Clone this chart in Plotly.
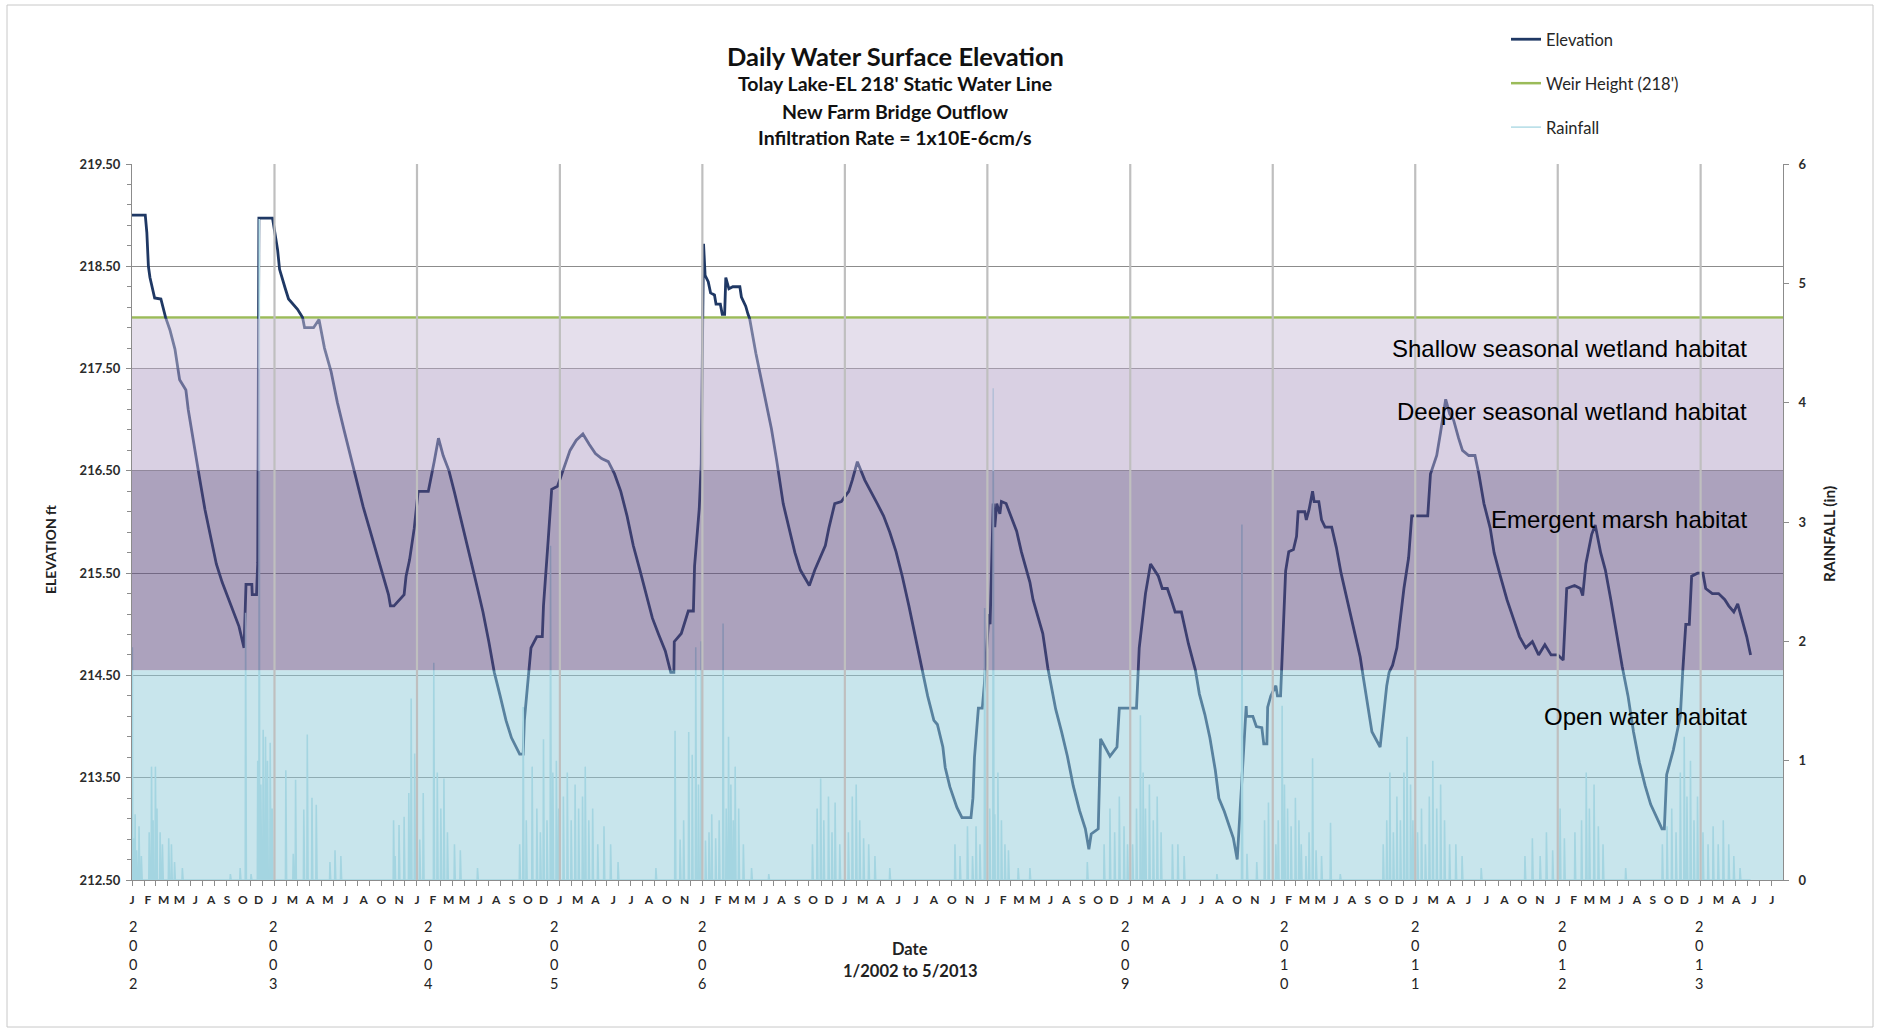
import pandas as pd
import plotly.graph_objects as go

# ---------------------------------------------------------------- data
X_START, X_END = "2002-01-01", "2013-07-31"
WEIR_FT = 218.0

# Daily water surface elevation (ft), read at the turning points of the record
elevation_readings = [
    ("2002-01-01", 219.00), ("2002-02-04", 219.00), ("2002-02-08", 218.83), ("2002-02-12", 218.50),
    ("2002-02-16", 218.39), ("2002-02-28", 218.19), ("2002-03-16", 218.18), ("2002-03-28", 218.00),
    ("2002-04-08", 217.88), ("2002-04-21", 217.69), ("2002-05-03", 217.39), ("2002-05-19", 217.29),
    ("2002-05-25", 217.10), ("2002-06-08", 216.76), ("2002-06-23", 216.43), ("2002-07-07", 216.12),
    ("2002-07-22", 215.85), ("2002-08-05", 215.59), ("2002-08-20", 215.41), ("2002-09-03", 215.27),
    ("2002-09-18", 215.12), ("2002-10-02", 214.98), ("2002-10-15", 214.77), ("2002-10-20", 215.39),
    ("2002-11-04", 215.39), ("2002-11-05", 215.29), ("2002-11-16", 215.29), ("2002-11-19", 215.60),
    ("2002-11-22", 218.97), ("2002-12-27", 218.97), ("2003-01-09", 218.66), ("2003-01-14", 218.47),
    ("2003-01-28", 218.29), ("2003-02-06", 218.18), ("2003-03-01", 218.08), ("2003-03-14", 218.00),
    ("2003-03-19", 217.90), ("2003-04-11", 217.90), ("2003-04-25", 217.98), ("2003-05-09", 217.70),
    ("2003-05-26", 217.47), ("2003-06-11", 217.17), ("2003-06-28", 216.90), ("2003-07-14", 216.65),
    ("2003-07-30", 216.41), ("2003-08-16", 216.15), ("2003-09-01", 215.94), ("2003-09-18", 215.71),
    ("2003-10-04", 215.50), ("2003-10-20", 215.29), ("2003-10-25", 215.18), ("2003-11-03", 215.18),
    ("2003-11-29", 215.29), ("2003-12-04", 215.47), ("2003-12-13", 215.63), ("2003-12-25", 215.94),
    ("2004-01-04", 216.30), ("2004-01-30", 216.30), ("2004-02-14", 216.59), ("2004-02-25", 216.82),
    ("2004-03-08", 216.65), ("2004-03-23", 216.50), ("2004-04-06", 216.29), ("2004-04-21", 216.06),
    ("2004-05-05", 215.82), ("2004-05-20", 215.59), ("2004-06-04", 215.35), ("2004-06-18", 215.12),
    ("2004-07-03", 214.83), ("2004-07-17", 214.53), ("2004-08-01", 214.30), ("2004-08-16", 214.06),
    ("2004-08-30", 213.89), ("2004-09-20", 213.73), ("2004-09-29", 213.73), ("2004-10-02", 214.06),
    ("2004-10-19", 214.77), ("2004-11-03", 214.88), ("2004-11-17", 214.88), ("2004-11-20", 215.18),
    ("2004-12-02", 215.82), ("2004-12-11", 216.32), ("2004-12-26", 216.35), ("2005-01-11", 216.53),
    ("2005-01-27", 216.70), ("2005-02-12", 216.80), ("2005-03-01", 216.86), ("2005-03-17", 216.76),
    ("2005-04-02", 216.67), ("2005-04-18", 216.62), ("2005-05-05", 216.59), ("2005-05-21", 216.47),
    ("2005-06-06", 216.30), ("2005-06-22", 216.06), ("2005-07-08", 215.77), ("2005-07-25", 215.53),
    ("2005-08-10", 215.30), ("2005-08-26", 215.06), ("2005-09-11", 214.90), ("2005-09-28", 214.74),
    ("2005-10-12", 214.53), ("2005-10-20", 214.53), ("2005-10-21", 214.83), ("2005-11-08", 214.91),
    ("2005-11-26", 215.13), ("2005-12-09", 215.13), ("2005-12-12", 215.57), ("2005-12-19", 215.87),
    ("2005-12-24", 216.13), ("2005-12-29", 216.57), ("2006-01-04", 218.72), ("2006-01-08", 218.41),
    ("2006-01-16", 218.35), ("2006-01-22", 218.24), ("2006-02-01", 218.22), ("2006-02-05", 218.13),
    ("2006-02-16", 218.13), ("2006-02-21", 218.03), ("2006-02-27", 218.03), ("2006-03-02", 218.39),
    ("2006-03-10", 218.28), ("2006-03-20", 218.30), ("2006-04-07", 218.30), ("2006-04-11", 218.20),
    ("2006-04-22", 218.11), ("2006-04-28", 218.03), ("2006-05-02", 217.99), ("2006-05-18", 217.65),
    ("2006-05-30", 217.43), ("2006-06-11", 217.22), ("2006-06-27", 216.91), ("2006-07-10", 216.61),
    ("2006-07-27", 216.18), ("2006-08-11", 215.94), ("2006-08-26", 215.70), ("2006-09-09", 215.53),
    ("2006-10-02", 215.38), ("2006-10-16", 215.53), ("2006-11-12", 215.77), ("2006-11-21", 215.94),
    ("2006-12-06", 216.18), ("2006-12-23", 216.20), ("2007-01-11", 216.30), ("2007-01-20", 216.41),
    ("2007-02-02", 216.59), ("2007-02-21", 216.41), ("2007-03-09", 216.30), ("2007-03-25", 216.18),
    ("2007-04-10", 216.06), ("2007-04-26", 215.90), ("2007-05-12", 215.71), ("2007-05-28", 215.47),
    ("2007-06-14", 215.18), ("2007-06-30", 214.88), ("2007-07-16", 214.59), ("2007-08-01", 214.30),
    ("2007-08-17", 214.06), ("2007-08-26", 214.02), ("2007-09-09", 213.80), ("2007-09-15", 213.60),
    ("2007-09-27", 213.41), ("2007-10-06", 213.31), ("2007-10-15", 213.21), ("2007-10-28", 213.11),
    ("2007-11-20", 213.11), ("2007-11-25", 213.30), ("2007-11-29", 213.70), ("2007-12-09", 214.18),
    ("2007-12-19", 214.18), ("2007-12-24", 214.40), ("2008-01-05", 215.10), ("2008-01-08", 215.00),
    ("2008-01-16", 216.18), ("2008-01-20", 215.95), ("2008-01-25", 216.18), ("2008-02-02", 216.08),
    ("2008-02-06", 216.20), ("2008-02-18", 216.18), ("2008-02-28", 216.08), ("2008-03-16", 215.91),
    ("2008-03-28", 215.71), ("2008-04-06", 215.58), ("2008-04-19", 215.41), ("2008-04-27", 215.24),
    ("2008-05-10", 215.07), ("2008-05-22", 214.91), ("2008-06-04", 214.57), ("2008-06-12", 214.40),
    ("2008-06-24", 214.17), ("2008-07-09", 213.95), ("2008-07-24", 213.71), ("2008-08-08", 213.42),
    ("2008-08-24", 213.18), ("2008-09-08", 213.00), ("2008-09-17", 212.80), ("2008-09-23", 212.95),
    ("2008-10-11", 213.00), ("2008-10-17", 213.88), ("2008-11-10", 213.71), ("2008-11-28", 213.80),
    ("2008-12-04", 214.18), ("2008-12-22", 214.18), ("2009-01-17", 214.18), ("2009-01-24", 214.77),
    ("2009-02-09", 215.30), ("2009-02-22", 215.59), ("2009-03-14", 215.47), ("2009-03-24", 215.35),
    ("2009-04-06", 215.35), ("2009-04-16", 215.24), ("2009-04-26", 215.12), ("2009-05-12", 215.12),
    ("2009-05-30", 214.81), ("2009-06-17", 214.55), ("2009-06-27", 214.32), ("2009-07-11", 214.12),
    ("2009-07-24", 213.89), ("2009-08-07", 213.57), ("2009-08-16", 213.30), ("2009-08-30", 213.17),
    ("2009-09-13", 213.01), ("2009-09-22", 212.91), ("2009-10-02", 212.70), ("2009-10-25", 214.20),
    ("2009-10-26", 214.10), ("2009-11-11", 214.10), ("2009-11-20", 214.00), ("2009-12-04", 213.99),
    ("2009-12-09", 213.83), ("2009-12-17", 213.83), ("2009-12-19", 214.19), ("2009-12-27", 214.30),
    ("2010-01-09", 214.40), ("2010-01-13", 214.30), ("2010-01-21", 214.30), ("2010-01-26", 214.75),
    ("2010-01-30", 215.20), ("2010-02-03", 215.52), ("2010-02-11", 215.71), ("2010-02-23", 215.73),
    ("2010-03-03", 215.86), ("2010-03-07", 216.10), ("2010-03-24", 216.10), ("2010-03-28", 216.02),
    ("2010-04-04", 216.12), ("2010-04-13", 216.30), ("2010-04-17", 216.20), ("2010-04-29", 216.20),
    ("2010-05-06", 216.02), ("2010-05-15", 215.95), ("2010-06-01", 215.95), ("2010-06-13", 215.75),
    ("2010-06-25", 215.50), ("2010-07-07", 215.30), ("2010-07-20", 215.07), ("2010-08-01", 214.88),
    ("2010-08-13", 214.68), ("2010-08-21", 214.48), ("2010-08-29", 214.30), ("2010-09-12", 213.95),
    ("2010-10-03", 213.80), ("2010-10-11", 214.09), ("2010-10-20", 214.40), ("2010-10-26", 214.53),
    ("2010-11-04", 214.60), ("2010-11-15", 214.77), ("2010-11-24", 215.06), ("2010-12-03", 215.35),
    ("2010-12-15", 215.65), ("2010-12-23", 216.06), ("2011-01-07", 216.06), ("2011-02-02", 216.06),
    ("2011-02-09", 216.47), ("2011-02-25", 216.65), ("2011-03-07", 216.88), ("2011-03-20", 217.20),
    ("2011-03-30", 217.06), ("2011-04-09", 217.00), ("2011-04-22", 216.82), ("2011-05-02", 216.70),
    ("2011-05-18", 216.65), ("2011-06-03", 216.65), ("2011-06-13", 216.47), ("2011-06-26", 216.18),
    ("2011-07-12", 215.94), ("2011-07-22", 215.70), ("2011-08-07", 215.47), ("2011-08-24", 215.24),
    ("2011-09-09", 215.06), ("2011-09-25", 214.88), ("2011-10-11", 214.77), ("2011-10-28", 214.83),
    ("2011-11-13", 214.70), ("2011-11-29", 214.80), ("2011-12-15", 214.70), ("2012-01-01", 214.70),
    ("2012-01-15", 214.65), ("2012-01-24", 215.35), ("2012-02-13", 215.38), ("2012-02-28", 215.35),
    ("2012-03-05", 215.28), ("2012-03-13", 215.59), ("2012-03-28", 215.88), ("2012-04-06", 215.97),
    ("2012-04-20", 215.70), ("2012-05-02", 215.53), ("2012-05-16", 215.24), ("2012-05-31", 214.88),
    ("2012-06-14", 214.59), ("2012-06-29", 214.30), ("2012-07-13", 213.95), ("2012-07-28", 213.65),
    ("2012-08-12", 213.42), ("2012-08-26", 213.24), ("2012-09-10", 213.12), ("2012-09-24", 213.00),
    ("2012-09-30", 213.00), ("2012-10-06", 213.53), ("2012-10-23", 213.77), ("2012-11-01", 213.95),
    ("2012-11-10", 214.10), ("2012-11-16", 214.53), ("2012-11-24", 215.00), ("2012-12-03", 215.00),
    ("2012-12-09", 215.47), ("2012-12-24", 215.50), ("2013-01-07", 215.50), ("2013-01-14", 215.35),
    ("2013-01-31", 215.30), ("2013-02-16", 215.30), ("2013-03-04", 215.24), ("2013-03-14", 215.18),
    ("2013-03-27", 215.12), ("2013-04-06", 215.20), ("2013-04-16", 215.06), ("2013-04-29", 214.88),
    ("2013-05-09", 214.70),
]

# Daily rainfall (in) on rain days; every other day of the record is dry
rainfall_readings = [
    ("2002-01-02", 1.95), ("2002-01-05", 0.35), ("2002-01-09", 0.55), ("2002-01-13", 0.25),
    ("2002-01-19", 0.45), ("2002-01-25", 0.20), ("2002-02-14", 0.40), ("2002-02-20", 0.95),
    ("2002-02-24", 0.50), ("2002-03-02", 0.95), ("2002-03-06", 0.60), ("2002-03-14", 0.40),
    ("2002-03-20", 0.30), ("2002-04-05", 0.35), ("2002-04-12", 0.30), ("2002-04-20", 0.15),
    ("2002-05-10", 0.10), ("2002-09-10", 0.05), ("2002-10-05", 0.10), ("2002-10-19", 2.24),
    ("2002-11-02", 0.05), ("2002-11-19", 1.00), ("2002-11-23", 5.54), ("2002-11-27", 0.80),
    ("2002-12-03", 1.26), ("2002-12-09", 1.20), ("2002-12-14", 1.00), ("2002-12-21", 1.15),
    ("2002-12-26", 0.60), ("2003-01-30", 0.92), ("2003-02-18", 0.22), ("2003-02-24", 0.84),
    ("2003-03-17", 0.59), ("2003-03-26", 1.22), ("2003-04-07", 0.69), ("2003-04-18", 0.63),
    ("2003-05-23", 0.15), ("2003-06-05", 0.25), ("2003-06-20", 0.20), ("2003-11-02", 0.50),
    ("2003-11-06", 0.20), ("2003-11-16", 0.46), ("2003-11-29", 0.53), ("2003-12-11", 0.73),
    ("2003-12-17", 1.52), ("2003-12-26", 1.06), ("2004-01-08", 0.34), ("2004-01-17", 0.73),
    ("2004-02-13", 1.82), ("2004-02-22", 0.90), ("2004-03-02", 0.60), ("2004-03-10", 0.85),
    ("2004-03-19", 0.40), ("2004-04-06", 0.30), ("2004-04-21", 0.25), ("2004-06-04", 0.10),
    ("2004-09-20", 0.30), ("2004-09-29", 1.45), ("2004-10-07", 0.50), ("2004-10-22", 0.95),
    ("2004-11-03", 0.60), ("2004-11-12", 0.40), ("2004-11-20", 1.18), ("2004-11-29", 0.50),
    ("2004-12-08", 2.80), ("2004-12-14", 0.90), ("2004-12-23", 1.00), ("2004-12-29", 0.60),
    ("2005-01-10", 0.70), ("2005-01-20", 0.90), ("2005-01-30", 0.50), ("2005-02-09", 0.80),
    ("2005-02-18", 0.60), ("2005-02-28", 0.70), ("2005-03-07", 0.95), ("2005-03-16", 0.50),
    ("2005-03-26", 0.60), ("2005-04-08", 0.30), ("2005-04-24", 0.45), ("2005-05-11", 0.30),
    ("2005-05-30", 0.15), ("2005-09-04", 0.10), ("2005-10-23", 1.25), ("2005-11-05", 0.34),
    ("2005-11-14", 0.50), ("2005-11-27", 1.24), ("2005-12-06", 1.05), ("2005-12-15", 1.95),
    ("2005-12-22", 0.80), ("2005-12-29", 2.00), ("2006-01-09", 0.33), ("2006-01-18", 0.40),
    ("2006-01-25", 0.55), ("2006-02-04", 0.35), ("2006-02-13", 0.50), ("2006-02-23", 2.15),
    ("2006-03-03", 0.60), ("2006-03-09", 1.20), ("2006-03-15", 0.80), ("2006-03-21", 0.50),
    ("2006-03-26", 0.95), ("2006-04-04", 0.60), ("2006-04-16", 0.30), ("2006-05-07", 0.10),
    ("2006-06-20", 0.05), ("2006-10-10", 0.30), ("2006-10-22", 0.60), ("2006-10-31", 0.85),
    ("2006-11-08", 0.50), ("2006-11-20", 0.70), ("2006-11-29", 0.40), ("2006-12-07", 0.65),
    ("2006-12-19", 0.30), ("2007-01-10", 0.40), ("2007-01-20", 0.70), ("2007-01-30", 0.80),
    ("2007-02-08", 0.50), ("2007-02-18", 0.35), ("2007-03-03", 0.30), ("2007-03-19", 0.20),
    ("2007-04-26", 0.10), ("2007-10-10", 0.30), ("2007-10-23", 0.20), ("2007-11-11", 0.45),
    ("2007-11-24", 0.20), ("2007-12-03", 0.45), ("2007-12-13", 0.30), ("2007-12-25", 2.28),
    ("2008-01-07", 0.60), ("2008-01-16", 4.12), ("2008-01-20", 0.55), ("2008-01-28", 0.90),
    ("2008-02-06", 0.50), ("2008-02-15", 0.30), ("2008-02-24", 0.25), ("2008-03-20", 0.10),
    ("2008-04-19", 0.10), ("2008-09-13", 0.15), ("2008-10-26", 0.30), ("2008-11-10", 0.60),
    ("2008-11-22", 0.40), ("2008-12-04", 0.70), ("2008-12-16", 0.45), ("2008-12-25", 0.30),
    ("2009-01-07", 0.30), ("2009-01-17", 0.60), ("2009-01-27", 1.38), ("2009-02-03", 0.90),
    ("2009-02-09", 0.60), ("2009-02-19", 0.80), ("2009-03-01", 0.50), ("2009-03-11", 0.70),
    ("2009-03-21", 0.40), ("2009-04-19", 0.30), ("2009-05-03", 0.30), ("2009-05-19", 0.20),
    ("2009-08-11", 0.05), ("2009-10-14", 2.98), ("2009-10-27", 0.22), ("2009-11-21", 0.15),
    ("2009-12-11", 0.50), ("2009-12-21", 0.65), ("2010-01-09", 0.30), ("2010-01-15", 0.50),
    ("2010-01-25", 1.46), ("2010-01-31", 0.80), ("2010-02-08", 0.60), ("2010-02-17", 0.45),
    ("2010-02-28", 0.69), ("2010-03-09", 0.50), ("2010-03-15", 0.30), ("2010-03-27", 0.20),
    ("2010-04-04", 0.40), ("2010-04-13", 1.02), ("2010-04-22", 0.25), ("2010-05-06", 0.20),
    ("2010-05-29", 0.48), ("2010-06-23", 0.05), ("2010-10-11", 0.30), ("2010-10-20", 0.50),
    ("2010-10-28", 0.90), ("2010-11-06", 0.40), ("2010-11-15", 0.70), ("2010-11-24", 0.50),
    ("2010-12-03", 0.90), ("2010-12-11", 1.20), ("2010-12-20", 0.80), ("2010-12-26", 0.50),
    ("2011-01-07", 0.40), ("2011-01-17", 0.60), ("2011-01-27", 0.30), ("2011-02-06", 0.70),
    ("2011-02-15", 1.00), ("2011-02-25", 0.60), ("2011-03-07", 0.80), ("2011-03-17", 0.50),
    ("2011-03-30", 0.30), ("2011-04-15", 0.30), ("2011-05-01", 0.20), ("2011-06-19", 0.10),
    ("2011-10-09", 0.20), ("2011-10-28", 0.35), ("2011-11-17", 0.20), ("2011-12-03", 0.40),
    ("2011-12-19", 0.25), ("2012-01-07", 0.60), ("2012-01-18", 0.35), ("2012-02-14", 0.40),
    ("2012-03-02", 0.50), ("2012-03-14", 0.90), ("2012-03-22", 0.60), ("2012-04-03", 0.80),
    ("2012-04-14", 0.45), ("2012-04-26", 0.30), ("2012-06-23", 0.10), ("2012-09-25", 0.30),
    ("2012-10-07", 0.45), ("2012-10-19", 0.60), ("2012-10-30", 0.40), ("2012-11-10", 0.90),
    ("2012-11-20", 1.20), ("2012-11-27", 0.70), ("2012-12-06", 1.00), ("2012-12-15", 0.50),
    ("2012-12-24", 0.70), ("2013-01-07", 0.40), ("2013-01-20", 0.30), ("2013-02-02", 0.45),
    ("2013-02-15", 0.30), ("2013-02-28", 0.50), ("2013-03-14", 0.30), ("2013-03-27", 0.20),
    ("2013-04-12", 0.10),
]
RAIN_RECORD_END = "2013-05-09"

# Month initials shown along the date axis, year by year
month_initials = {
    2002: "J F M M J A S O D", 2003: "J M A M J A O N", 2004: "J F M M J A S O D",
    2005: "J M A J J A O N",   2006: "J F M M J A S O D", 2007: "J M A J J A O N",
    2008: "J F M M J A S O D", 2009: "J M A J J A O N", 2010: "J F M M J A S O D",
    2011: "J M A J J A O N",   2012: "J F M M J A S O D", 2013: "J M A J J",
}
# Year captions under the month initials (2007 and 2008 sit behind the axis title)
year_captions = [2002, 2003, 2004, 2005, 2006, 2009, 2010, 2011, 2012, 2013]
year_caption_offset_days = {2002: 3, 2003: -3, 2004: 29, 2005: -16, 2006: 0,
                            2009: -13, 2010: 29, 2011: 0, 2012: 12, 2013: -3}

# Habitat zones by elevation (ft)
band_names = ["Shallow seasonal wetland habitat", "Deeper seasonal wetland habitat",
              "Emergent marsh habitat", "Open water habitat"]
band_bottom_ft = [217.5, 216.5, 214.55, 212.5]
band_top_ft = [218.0, 217.5, 216.5, 214.55]

# ---------------------------------------------------------------- styles
W, H = 1883, 1029
ML, MR, MT, MB = 132, 100, 164, 149
PW, PH = W - ML - MR, H - MT - MB

def px_x(px):
    return (px - ML) / PW

def px_y(py):
    return (H - MB - py) / PH

NAVY = "#1F3864"
WEIR_GREEN = "#9BBB59"
RAIN_BLUE = "#B7DEE8"
GRID = "#8C8C8C"
YEAR_LINE = "#BFBFBF"
TEXT = "#2b2b2b"
CAL = "Lato"
band_fill = ["rgba(203,191,217,0.5)", "rgba(179,161,199,0.5)",
             "rgba(89,69,123,0.5)", "rgba(145,203,217,0.5)"]
band_label_ft = [217.70, 217.08, 216.02, 214.10]

# ---------------------------------------------------------------- series
elev_date = pd.to_datetime([d for d, _ in elevation_readings])
elev_ft = [v for _, v in elevation_readings]

rain_days = pd.date_range(X_START, RAIN_RECORD_END, freq="D")
rain = pd.Series(0.0, index=rain_days)
rain.loc[pd.to_datetime([d for d, _ in rainfall_readings])] = [v for _, v in rainfall_readings]

fig = go.Figure()

fig.add_trace(go.Scatter(
    x=rain.index, y=rain.values, yaxis="y2", mode="lines", name="Rainfall",
    line=dict(color=RAIN_BLUE, width=1.6), legendgroup="rain", legendrank=3,
    hoverinfo="skip"))

fig.add_trace(go.Scatter(
    x=[X_START, X_END], y=[WEIR_FT, WEIR_FT], mode="lines", name="Weir Height (218')",
    line=dict(color=WEIR_GREEN, width=2.5), legendgroup="weir", legendrank=2))

fig.add_trace(go.Scatter(
    x=elev_date, y=elev_ft, mode="lines", name="Elevation",
    line=dict(color=NAVY, width=2.8), legendgroup="elev", legendrank=1))

# ---------------------------------------------------------------- date axis ticks
tick_vals, tick_text = [], []
for yr, letters in month_initials.items():
    letters = letters.split()
    slots = 9 if len(letters) >= 9 else 8
    start = pd.Timestamp(f"{yr}-01-01")
    for i, letter in enumerate(letters):
        tick_vals.append(start + pd.Timedelta(days=365.0 * i / slots))
        tick_text.append(letter)

# ---------------------------------------------------------------- shapes
shapes = []
for lo, hi, fill in zip(band_bottom_ft, band_top_ft, band_fill):
    top = hi - 0.012 if hi == WEIR_FT else hi  # keep the weir line clear of the zone tint
    shapes.append(dict(type="rect", xref="paper", yref="y", x0=0, x1=1, y0=lo, y1=top,
                       fillcolor=fill, line=dict(width=0), layer="above"))
for yr in range(2003, 2014):
    shapes.append(dict(type="line", xref="x", yref="paper", x0=f"{yr}-01-01", x1=f"{yr}-01-01",
                       y0=0, y1=1, line=dict(color=YEAR_LINE, width=2.2), layer="above"))
shapes.append(dict(type="rect", xref="paper", yref="paper",
                   x0=px_x(7), x1=px_x(1873), y0=px_y(1027), y1=px_y(5),
                   line=dict(color="#C8C8C8", width=1), fillcolor="rgba(0,0,0,0)", layer="below"))

# ---------------------------------------------------------------- annotations
ann = []
title_lines = [("Daily Water Surface Elevation", 25.5, 56),
               ("Tolay Lake-EL 218' Static Water Line", 19.5, 84),
               ("New Farm Bridge Outflow", 19.5, 111.5),
               ("Infiltration Rate = 1x10E-6cm/s", 19.5, 138)]
for txt, size, py in title_lines:
    ann.append(dict(text=f"<b>{txt}</b>", xref="paper", yref="paper", x=px_x(895), y=px_y(py),
                    xanchor="center", yanchor="middle", showarrow=False,
                    font=dict(family=CAL, size=size, color="#111111")))

ann.append(dict(text="<b>Date</b>", xref="paper", yref="paper", x=px_x(910), y=px_y(949),
                xanchor="center", yanchor="middle", showarrow=False,
                font=dict(family=CAL, size=16.5, color="#222222")))
ann.append(dict(text="<b>1/2002 to 5/2013</b>", xref="paper", yref="paper", x=px_x(910), y=px_y(971),
                xanchor="center", yanchor="middle", showarrow=False,
                font=dict(family=CAL, size=16.5, color="#222222")))
ann.append(dict(text="<b>ELEVATION ft</b>", xref="paper", yref="paper", x=px_x(50), y=px_y(550),
                textangle=-90, xanchor="center", yanchor="middle", showarrow=False,
                font=dict(family=CAL, size=14, color="#222222")))
ann.append(dict(text="<b>RAINFALL (in)</b>", xref="paper", yref="paper", x=px_x(1829), y=px_y(534),
                textangle=-90, xanchor="center", yanchor="middle", showarrow=False,
                font=dict(family=CAL, size=15.5, color="#222222")))

for yr in year_captions:
    when = pd.Timestamp(f"{yr}-01-01") + pd.Timedelta(days=year_caption_offset_days[yr])
    ann.append(dict(text="<br>".join(str(yr)), xref="x", yref="paper", x=when, y=px_y(916),
                    xanchor="center", yanchor="top", showarrow=False, align="center",
                    font=dict(family=CAL, size=14.5, color="#222222")))

for name, yv in zip(band_names, band_label_ft):
    ann.append(dict(text=name, xref="paper", yref="y", x=px_x(1749), y=yv,
                    xanchor="right", yanchor="middle", showarrow=False,
                    font=dict(family="Liberation Sans", size=24, color="#000000")))

# ---------------------------------------------------------------- layout
fig.update_layout(
    width=W, height=H, margin=dict(l=ML, r=MR, t=MT, b=MB, autoexpand=False),
    paper_bgcolor="white", plot_bgcolor="white",
    font=dict(family=CAL, color=TEXT),
    showlegend=True,
    legend=dict(x=px_x(1506), y=px_y(22), xanchor="left", yanchor="top",
                font=dict(family=CAL, size=16.5, color="#262626"),
                tracegroupgap=19.5, bgcolor="rgba(0,0,0,0)", traceorder="grouped"),
    xaxis=dict(type="date", range=[X_START, X_END], showgrid=False, zeroline=False,
               showline=True, linecolor=GRID, linewidth=1,
               tickmode="array", tickvals=tick_vals, ticktext=tick_text,
               ticks="outside", ticklen=1, tickcolor="rgba(0,0,0,0)", ticklabelstandoff=8,
               tickfont=dict(family=CAL, size=12, color=TEXT, weight="bold"),
               minor=dict(ticks="outside", ticklen=5, tickcolor=GRID, dtick="M1",
                          tick0="2002-01-01", showgrid=False)),
    yaxis=dict(range=[212.5, 219.5], tick0=212.5, dtick=1, tickformat=".2f",
               showgrid=True, gridcolor=GRID, gridwidth=1, zeroline=False,
               showline=True, linecolor=GRID, linewidth=1,
               ticks="outside", ticklen=5, tickcolor=GRID, ticklabelstandoff=3,
               tickfont=dict(family=CAL, size=13, color=TEXT, weight="bold"),
               minor=dict(ticks="outside", ticklen=4, tickcolor=GRID, dtick=0.2, tick0=212.5,
                          showgrid=False)),
    yaxis2=dict(range=[0, 6], dtick=1, overlaying="y", side="right", showgrid=False,
                zeroline=False, showline=True, linecolor=GRID, linewidth=1,
                ticks="outside", ticklen=5, tickcolor=GRID, ticklabelstandoff=7,
                tickfont=dict(family=CAL, size=13, color=TEXT, weight="bold")),
    shapes=shapes, annotations=ann,
)

fig.write_html("out.html")
